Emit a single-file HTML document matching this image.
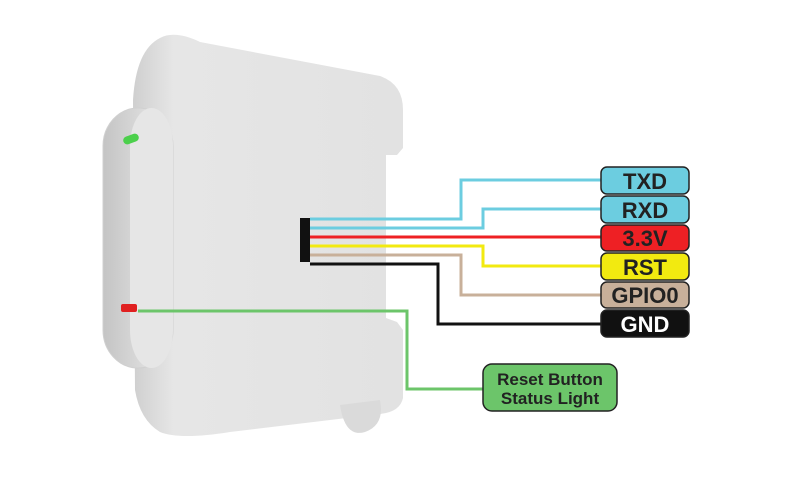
<!DOCTYPE html>
<html><head><meta charset="utf-8"><style>
html,body{margin:0;padding:0;background:#fff;width:800px;height:489px;overflow:hidden}
svg{display:block}
text{font-family:"Liberation Sans",Arial,sans-serif;font-weight:bold}
</style></head><body>
<svg width="800" height="489" viewBox="0 0 800 489" xmlns="http://www.w3.org/2000/svg">
<defs>
<linearGradient id="body" x1="0" y1="0" x2="1" y2="0">
<stop offset="0" stop-color="#cfcfcf"/><stop offset="0.15" stop-color="#e6e6e6"/><stop offset="1" stop-color="#e2e2e2"/>
</linearGradient>
<linearGradient id="front" x1="0" y1="0" x2="1" y2="0">
<stop offset="0" stop-color="#c4c4c4"/><stop offset="0.5" stop-color="#d8d8d8"/><stop offset="1" stop-color="#ececec"/>
</linearGradient>
</defs>
<path d="M160,38 Q175,30 200,42 L380,76 Q403,84 403,110 L403,148 L397,155 L386,155 L386,318 L397,322 L403,330 L403,398 Q400,412 380,414 L230,432 Q180,440 160,432 Q140,420 135,390 L133,100 Q136,50 160,38 Z" fill="url(#body)"/>
<path d="M340,405 Q345,438 365,432 Q385,425 380,400 Z" fill="#dadada"/>
<rect x="103" y="108" width="70" height="260" rx="35" ry="38" fill="url(#front)" stroke="#d0d0d0" stroke-width="1"/>
<rect x="130" y="108" width="43" height="260" rx="22" ry="38" fill="#e6e6e6"/>
<rect x="123" y="135" width="16" height="8" rx="4" fill="#4cd04c" transform="rotate(-20 131 139)"/>
<rect x="121" y="304" width="16" height="8" rx="2" fill="#e02020"/>
<rect x="300" y="218" width="10" height="44" fill="#111"/>
<g fill="none" stroke-width="3">
<polyline points="310,219 461,219 461,180 602,180" stroke="#6ccde0"/>
<polyline points="310,228 483,228 483,209 602,209" stroke="#6ccde0"/>
<polyline points="310,237 602,237" stroke="#ee2024"/>
<polyline points="310,246 483,246 483,266 602,266" stroke="#f2ea10"/>
<polyline points="310,255 461,255 461,295 602,295" stroke="#c8b09a"/>
<polyline points="310,264 438,264 438,324 602,324" stroke="#111"/>
<polyline points="138,311 407,311 407,389 484,389" stroke="#6cc56a"/>
</g>
<g stroke="#222" stroke-width="1.5">
<rect x="601" y="167" width="88" height="27" rx="6" fill="#6ccde0"/>
<rect x="601" y="196" width="88" height="27" rx="6" fill="#6ccde0"/>
<rect x="601" y="225" width="88" height="26" rx="6" fill="#ee2024"/>
<rect x="601" y="253" width="88" height="27" rx="6" fill="#f2ea10"/>
<rect x="601" y="282" width="88" height="26" rx="6" fill="#c8b09a"/>
<rect x="601" y="310" width="88" height="27" rx="6" fill="#111"/>
<rect x="483" y="364" width="134" height="47" rx="9" fill="#6cc56a"/>
</g>
<g font-size="22" text-anchor="middle" fill="#222">
<text x="645" y="189">TXD</text>
<text x="645" y="218">RXD</text>
<text x="645" y="246">3.3V</text>
<text x="645" y="275">RST</text>
<text x="645" y="303">GPIO0</text>
<text x="645" y="332" fill="#fff">GND</text>
</g>
<g font-size="17" text-anchor="middle" fill="#222">
<text x="550" y="385">Reset Button</text>
<text x="550" y="404">Status Light</text>
</g>
</svg>
</body></html>
